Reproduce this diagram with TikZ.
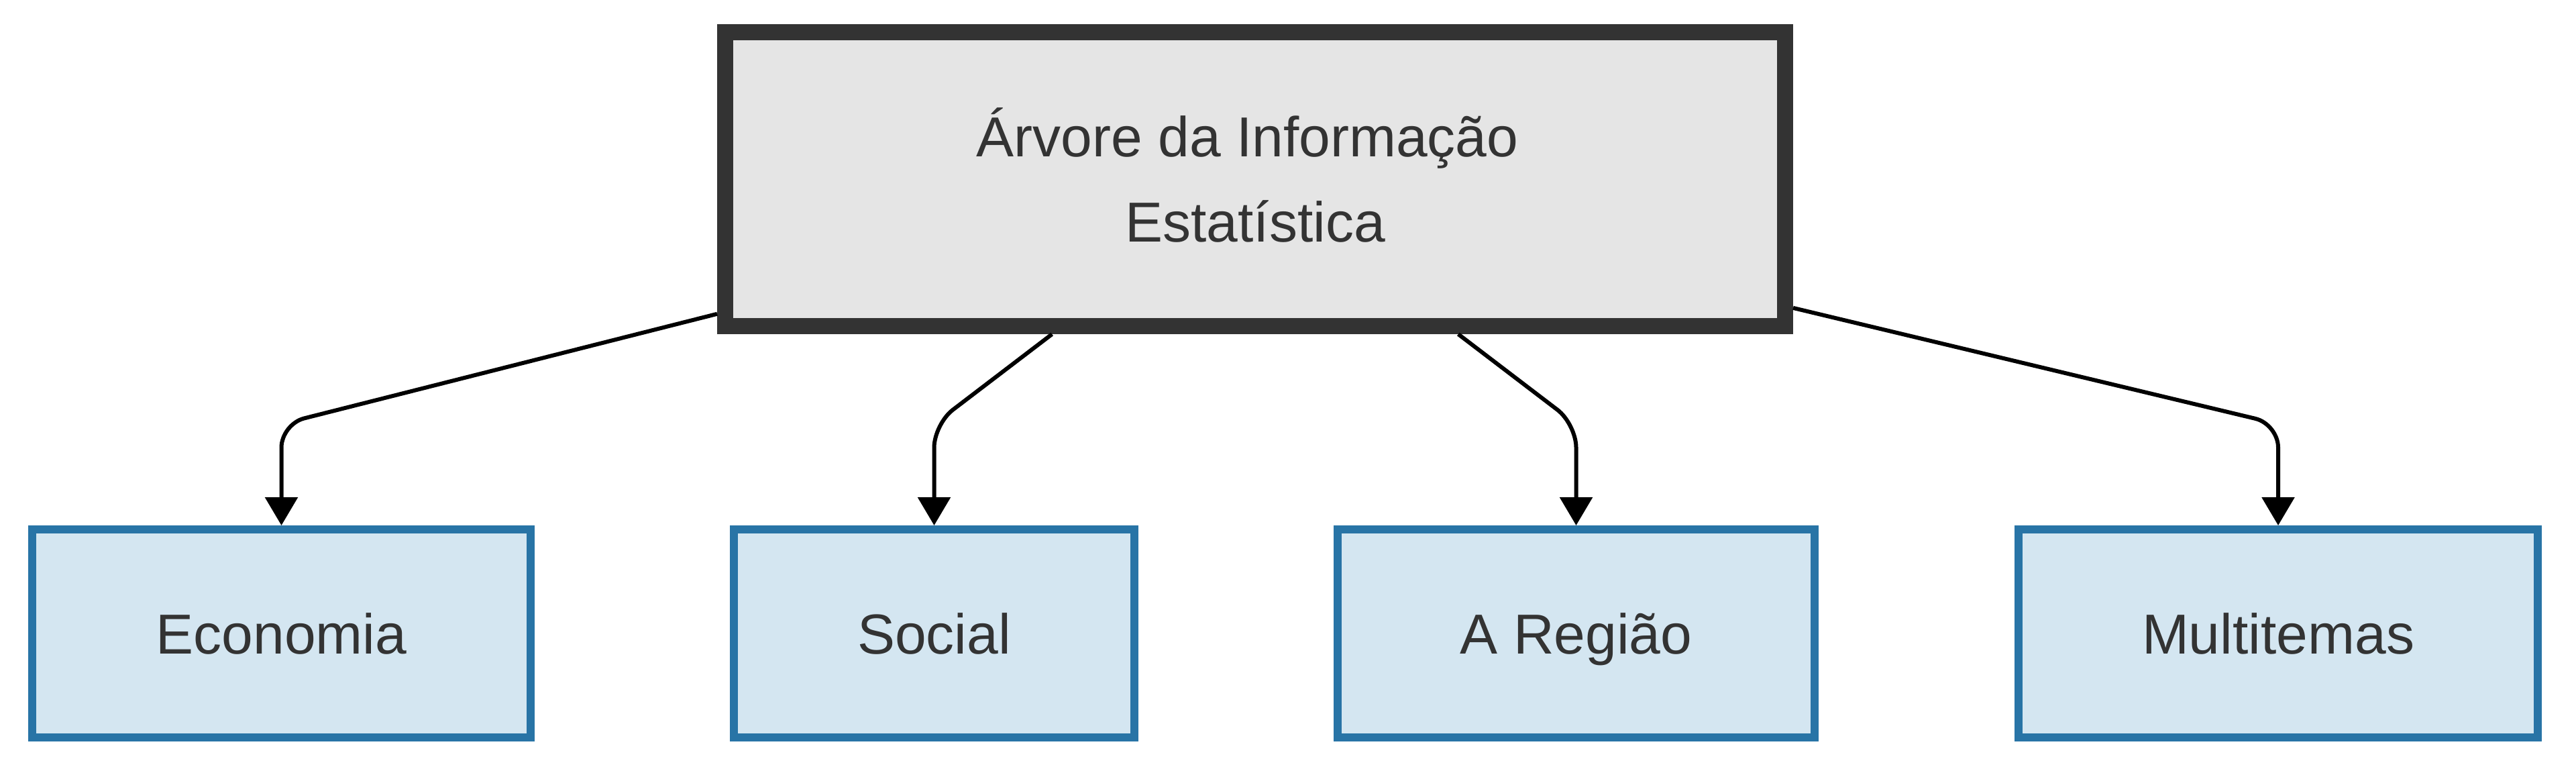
\documentclass[tikz,border=0pt]{standalone}
\usepackage{fontspec}
\setmainfont{Liberation Sans}
\usepackage{tikz}
\usetikzlibrary{positioning, arrows.meta}
\definecolor{rootfill}{HTML}{E5E5E5}
\definecolor{rootline}{HTML}{333333}
\definecolor{leaffill}{HTML}{D4E6F1}
\definecolor{leafline}{HTML}{2874A6}
\definecolor{labeltext}{HTML}{333333}
\tikzstyle{topic}=[draw=rootline, fill=rootfill, line width=0.24cm, shape=rectangle, inner sep=0pt, align=center, text=labeltext, font=\fontsize{23.9}{36.1}\selectfont, text height=1.87cm, text depth=0pt]
\tikzstyle{leaf}=[draw=leafline, fill=leaffill, line width=0.12cm, shape=rectangle, inner sep=0pt, minimum height=3.10cm, text=labeltext, font=\fontsize{23.9}{36.1}\selectfont, text height=0.6cm, text depth=0pt]
\tikzstyle{edge}=[line width=0.06cm, rounded corners=0.35cm, -{Triangle[length=0.42cm, width=0.48cm]}]

\begin{document}
\begin{tikzpicture}
\useasboundingbox (0,0) rectangle (38.4,-11.51);
\node[topic, minimum width=15.80cm, minimum height=4.38cm] (root) at (18.71, -2.67) {Árvore da Informação\hspace*{0.23cm}\\Estatística};
\foreach \n/\x/\w/\t in {eco/4.195/7.43/Economia, soc/13.925/5.97/Social, reg/23.495/7.11/A Região, mul/33.96/7.74/Multitemas}
{
\node[leaf, minimum width=\w cm] (\n) at (\x, -9.44) {\t};
\coordinate (b\n) at (\x, -6.32);
\draw[edge] (root) -- (b\n) -- (\n);
}
\end{tikzpicture}
\end{document}
